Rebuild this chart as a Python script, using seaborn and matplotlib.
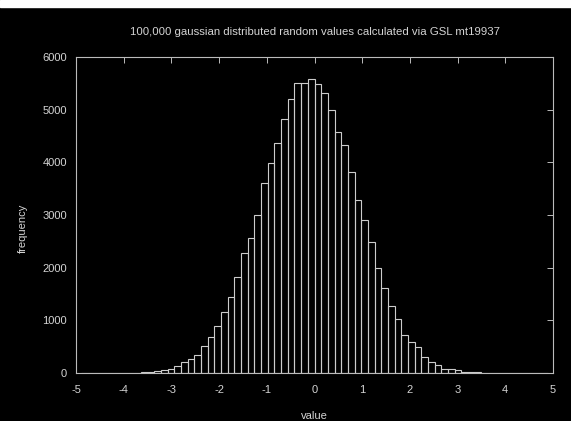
import numpy as np
import pandas as pd
import matplotlib
matplotlib.use("Agg")
import matplotlib.pyplot as plt
import seaborn as sns
from matplotlib.patches import Rectangle

# histogram bins (width 0.14, -4.9 .. 4.9) and counts
bin_width = 0.14
bin_edges = np.round(np.arange(-4.90, 4.90 + bin_width / 2, bin_width), 2).tolist()
counts = [
    0, 0, 0, 1, 1, 2, 3, 5, 8, 13,
    22, 34, 50, 82, 128, 200, 266, 336, 519, 678,
    886, 1164, 1437, 1823, 2279, 2570, 2995, 3602, 3994, 4373,
    4818, 5203, 5507, 5507, 5589, 5488, 5311, 4994, 4571, 4336,
    3811, 3291, 2911, 2493, 1994, 1620, 1278, 1031, 731, 594,
    488, 310, 203, 146, 82, 70, 51, 25, 15, 10,
    6, 4, 2, 2, 1, 1, 0, 0, 0, 0,
]
x_ticks = list(range(-5, 6))
y_ticks = list(range(0, 6001, 1000))

title = "100,000 gaussian distributed random values calculated via GSL mt19937"

centers = [round(e + bin_width / 2, 3) for e in bin_edges[:-1]]
df = pd.DataFrame({"value": centers, "count": counts})

sns.set_theme(style="dark")
plt.rcParams['font.family'] = ['Liberation Sans', 'DejaVu Sans']

fg = '#d4d4d4'
W, H = 571, 421
fig = plt.figure(figsize=(W / 100, H / 100), dpi=100, facecolor='black')
ax = fig.add_axes([76 / W, 1 - 373 / H, (553 - 76) / W, (373 - 57) / H])
ax.set_facecolor('black')

sns.histplot(data=df, x='value', weights='count', bins=bin_edges,
             fill=False, element='bars', color='#cccccc', linewidth=0.8, ax=ax)

ax.set_xlim(-5, 5)
ax.set_ylim(0, 6000)
ax.set_xticks(x_ticks)
ax.set_yticks(y_ticks)
ax.set_xticklabels([str(t) for t in x_ticks])
ax.grid(False)
for s in ax.spines.values():
    s.set_color('#bbbbbb')
    s.set_linewidth(0.8)
ax.tick_params(axis='both', direction='in', top=True, right=True, length=4,
               width=0.7, color='#bbbbbb', labelcolor=fg, labelsize=8)
ax.tick_params(axis='x', pad=8.4)
ax.tick_params(axis='y', pad=6.5)

ax.set_xlabel('value', color=fg, fontsize=8)
ax.xaxis.set_label_coords(0.5, -0.119)
ax.set_ylabel('frequency', color=fg, fontsize=8)
ax.yaxis.set_label_coords(-0.10, 0.459)

fig.text((76 + 553) / 2 / W, 1 - 32 / H, title, color=fg, fontsize=8.2,
         ha='center', va='center')

# white strip along the top edge of the screenshot
fig.patches.append(Rectangle((0, 1 - 7 / H), 1, 7 / H, transform=fig.transFigure,
                             color='white', zorder=10))

fig.savefig('out.png', dpi=100, facecolor='black')
plt.close(fig)
